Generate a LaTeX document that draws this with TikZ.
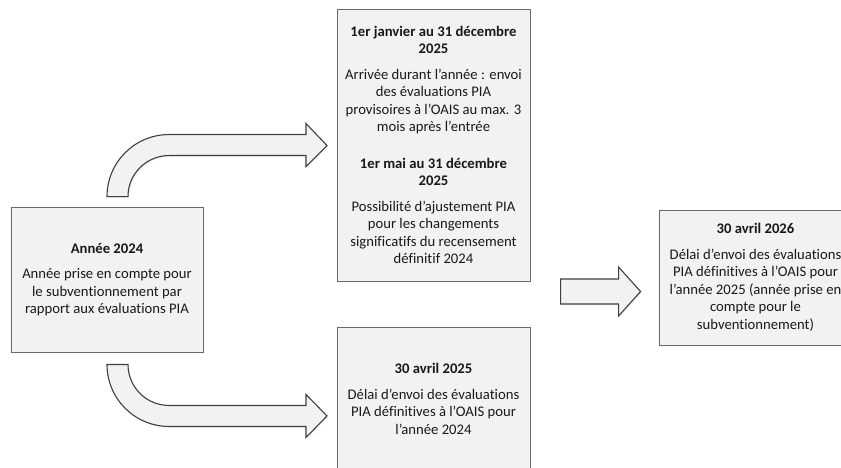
\documentclass[tikz,border=0pt]{standalone}
\usepackage{fontspec}
\setmainfont{Carlito}[Ligatures={TeX,NoCommon}]
\usetikzlibrary{shadows}
\definecolor{boxfill}{RGB}{242,242,242}
\definecolor{boxline}{RGB}{105,105,105}
\definecolor{arrline}{RGB}{64,64,64}
\tikzset{
  blok/.style={draw=boxline,fill=boxfill,line width=0.9pt,align=center,inner sep=0pt,
    text=black!90,font=\fontsize{14.67}{17.5}\selectfont,minimum width=193pt,
    drop shadow={shadow xshift=1.2pt,shadow yshift=-1.2pt,opacity=0.15}},
  pijl/.style={draw=arrline,fill=boxfill,line width=1.1pt,line join=miter,
    drop shadow={shadow xshift=1.2pt,shadow yshift=-1.2pt,opacity=0.15}},
}
\begin{document}
\begin{tikzpicture}[x=1pt,y=-1pt]
\def \ri{41};
\def \ro{62};
\useasboundingbox (0,0) rectangle (841,468);
\node[blok,minimum width=192pt,minimum height=145pt] (A24) at (107,279.5)
  {\textbf{Année 2024}\\[8pt]Année prise en compte pour\\le subventionnement par\\rapport aux évaluations PIA};
\node[blok,minimum height=272pt] (P25) at (433.5,145)
  {\textbf{1er janvier au 31 décembre}\\\textbf{2025}\\[8pt]Arrivée durant l’année : envoi\\des évaluations PIA\\provisoires à l’OAIS au max. 3\\mois après l’entrée\\[19pt]\textbf{1er mai au 31 décembre}\\\textbf{2025}\\[8pt]Possibilité d’ajustement PIA\\pour les changements\\significatifs du recensement\\définitif 2024};
\node[blok,minimum height=144pt] (D25) at (433.5,399)
  {\textbf{30 avril 2025}\\[8pt]Délai d’envoi des évaluations\\PIA définitives à l’OAIS pour\\l’année 2024};
\node[blok,minimum height=135pt] (D26) at (755.5,277.5)
  {\textbf{30 avril 2026}\\[8pt]Délai d’envoi des évaluations\\PIA définitives à l’OAIS pour\\l’année 2025 (année prise en\\compte pour le\\subventionnement)};
% bent arrows out of the left box
\draw[pijl] ([yshift=10pt]A24.north) arc[start angle=180,end angle=270,radius=\ro] -- ++(137,0) -- ++(0,-11) -- ++(21,22) -- ++(-21,21) -- ++(0,-11) -- ++(-137,0) arc[start angle=270,end angle=180,radius=\ri] -- cycle;
\draw[pijl] ([yshift=-12pt]A24.south) -- ++(21,0) arc[start angle=180,end angle=90,radius=\ri] -- ++(137,0) -- ++(0,-11) -- ++(21,21.5) -- ++(-21,21.5) -- ++(0,-11) -- ++(-137,0) arc[start angle=90,end angle=180,radius=\ro] -- cycle;
% straight arrow into the right box
\draw[pijl] ([xshift=-98pt,yshift=-1.5pt]D26.west) -- ++(58,0) -- ++(0,-12) -- ++(22,24.5) -- ++(-22,24.5) -- ++(0,-12) -- ++(-58,0) -- cycle;
\end{tikzpicture}
\end{document}
